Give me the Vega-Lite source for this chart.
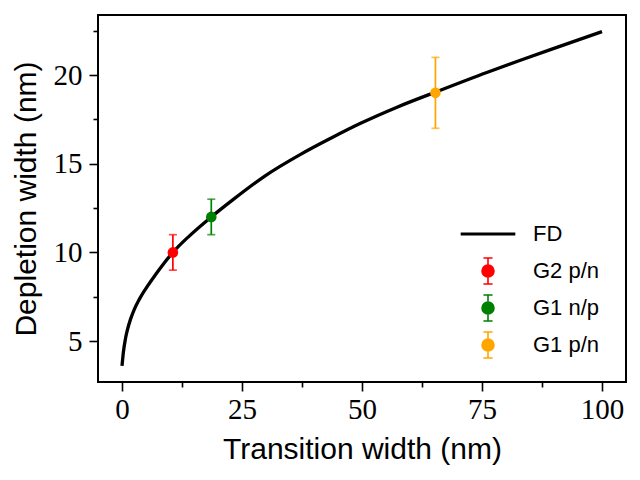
{
  "$schema": "https://vega.github.io/schema/vega-lite/v6.json",
  "width": 528,
  "height": 367,
  "autosize": {"type": "none"},
  "padding": {"left": 98, "top": 15, "right": 14, "bottom": 98},
  "background": "white",
  "config": {
    "view": {"stroke": "black", "strokeWidth": 2},
    "axis": {
      "domain": false,
      "grid": false,
      "tickColor": "black",
      "tickWidth": 1.6,
      "labelFont": "Liberation Serif",
      "labelFontSize": 29,
      "labelColor": "black",
      "titleFont": "Liberation Sans",
      "titleFontSize": 30,
      "titleFontWeight": "normal",
      "titleColor": "black"
    }
  },
  "datasets": {
    "curve": [
      {"t": 0, "w": 3.6},
      {"t": 0.3, "w": 4.4},
      {"t": 0.7, "w": 5.1},
      {"t": 1.1, "w": 5.6},
      {"t": 1.8, "w": 6.25},
      {"t": 2.5, "w": 6.75},
      {"t": 3.6, "w": 7.35},
      {"t": 4.9, "w": 7.93},
      {"t": 7, "w": 8.75},
      {"t": 10.6, "w": 10.0},
      {"t": 14, "w": 10.92},
      {"t": 18.6, "w": 12.0},
      {"t": 23, "w": 12.95},
      {"t": 29.6, "w": 14.28},
      {"t": 37.2, "w": 15.53},
      {"t": 43.5, "w": 16.44},
      {"t": 49.7, "w": 17.28},
      {"t": 57.3, "w": 18.19},
      {"t": 65.3, "w": 19.04},
      {"t": 76, "w": 20.15},
      {"t": 83, "w": 20.84},
      {"t": 90, "w": 21.51},
      {"t": 100, "w": 22.45}
    ],
    "meas": [
      {"series": "G2 p/n", "t": 10.6, "w": 10, "lo": 9, "hi": 11},
      {"series": "G1 n/p", "t": 18.6, "w": 12, "lo": 11, "hi": 13},
      {"series": "G1 p/n", "t": 65.3, "w": 19, "lo": 17, "hi": 21}
    ]
  },
  "encoding": {
    "x": {
      "field": "t",
      "type": "quantitative",
      "scale": {"domain": [-5, 105], "nice": false, "zero": false},
      "axis": {
        "title": "Transition width (nm)",
        "values": [0, 12.5, 25, 37.5, 50, 62.5, 75, 87.5, 100],
        "labelExpr": "datum.value % 25 === 0 ? datum.label : ''",
        "tickSize": {"condition": {"test": "datum.value % 25 === 0", "value": 9}, "value": 5},
        "labelPadding": 4,
        "titlePadding": 10
      }
    },
    "y": {
      "field": "w",
      "type": "quantitative",
      "scale": {"domain": [2.69, 23.39], "nice": false, "zero": false},
      "axis": {
        "title": "Depletion width (nm)",
        "values": [5, 7.5, 10, 12.5, 15, 17.5, 20, 22.5],
        "labelExpr": "datum.value % 5 === 0 ? datum.label : ''",
        "tickSize": {"condition": {"test": "datum.value % 5 === 0", "value": 9}, "value": 5},
        "labelPadding": 7,
        "titlePadding": 12
      }
    }
  },
  "resolve": {"legend": {"color": "independent", "shape": "independent"}},
  "layer": [
    {
      "data": {"name": "curve"},
      "mark": {"type": "line", "color": "black", "strokeWidth": 3.3, "interpolate": "monotone"}
    },
    {
      "data": {"name": "meas"},
      "mark": {"type": "rule", "strokeWidth": 1.7},
      "encoding": {
        "y": {"field": "lo", "type": "quantitative"},
        "y2": {"field": "hi"},
        "color": {"field": "series", "type": "nominal", "legend": null}
      }
    },
    {
      "data": {"name": "meas"},
      "mark": {"type": "tick", "orient": "horizontal", "size": 8, "thickness": 1.7},
      "encoding": {
        "y": {"field": "lo", "type": "quantitative"},
        "color": {"field": "series", "type": "nominal", "legend": null}
      }
    },
    {
      "data": {"name": "meas"},
      "mark": {"type": "tick", "orient": "horizontal", "size": 8, "thickness": 1.7},
      "encoding": {
        "y": {"field": "hi", "type": "quantitative"},
        "color": {"field": "series", "type": "nominal", "legend": null}
      }
    },
    {
      "data": {"name": "meas"},
      "mark": {"type": "circle", "opacity": 1, "size": 113},
      "encoding": {
        "color": {"field": "series", "type": "nominal", "legend": null}
      }
    },
    {
      "data": {"name": "meas"},
      "mark": {"type": "point", "filled": true, "opacity": 0, "size": 676},
      "encoding": {
        "color": {
          "field": "series",
          "type": "nominal",
          "scale": {
            "domain": ["FD", "G2 p/n", "G1 n/p", "G1 p/n"],
            "range": ["black", "red", "green", "orange"]
          },
          "legend": {
            "title": null,
            "orient": "none",
            "legendX": 376,
            "legendY": 205,
            "padding": 0,
            "symbolSize": 676,
            "symbolStrokeWidth": 1.6,
            "labelOffset": 31,
            "rowPadding": 3,
            "labelFont": "Liberation Sans",
            "labelFontSize": 22,
            "labelColor": "black",
            "encode": {
              "symbols": {
                "update": {
                  "stroke": {"scale": "color", "field": "value"},
                  "fill": {"scale": "color", "field": "value"},
                  "opacity": {"value": 1}
                }
              }
            }
          }
        },
        "shape": {
          "field": "series",
          "type": "nominal",
          "scale": {
            "domain": ["FD", "G2 p/n", "G1 n/p", "G1 p/n"],
            "range": [
              "M-2.04,-0.06H2.04V0.06H-2.04ZM0,-1L0,-1M0,1L0,1",
              "M-0.35,-1H0.35M0,-1V1M-0.35,1H0.35M-0.46,0A0.46,0.46 0 1,0 0.46,0A0.46,0.46 0 1,0 -0.46,0Z",
              "M-0.35,-1H0.35M0,-1V1M-0.35,1H0.35M-0.46,0A0.46,0.46 0 1,0 0.46,0A0.46,0.46 0 1,0 -0.46,0Z",
              "M-0.35,-1H0.35M0,-1V1M-0.35,1H0.35M-0.46,0A0.46,0.46 0 1,0 0.46,0A0.46,0.46 0 1,0 -0.46,0Z"
            ]
          },
          "legend": {
            "title": null,
            "orient": "none",
            "legendX": 376,
            "legendY": 205,
            "padding": 0,
            "symbolSize": 676,
            "symbolStrokeWidth": 1.6,
            "labelOffset": 31,
            "rowPadding": 3,
            "labelFont": "Liberation Sans",
            "labelFontSize": 22,
            "labelColor": "black",
            "encode": {
              "symbols": {
                "update": {
                  "stroke": {"scale": "color", "field": "value"},
                  "fill": {"scale": "color", "field": "value"},
                  "opacity": {"value": 1}
                }
              }
            }
          }
        }
      }
    }
  ]
}
